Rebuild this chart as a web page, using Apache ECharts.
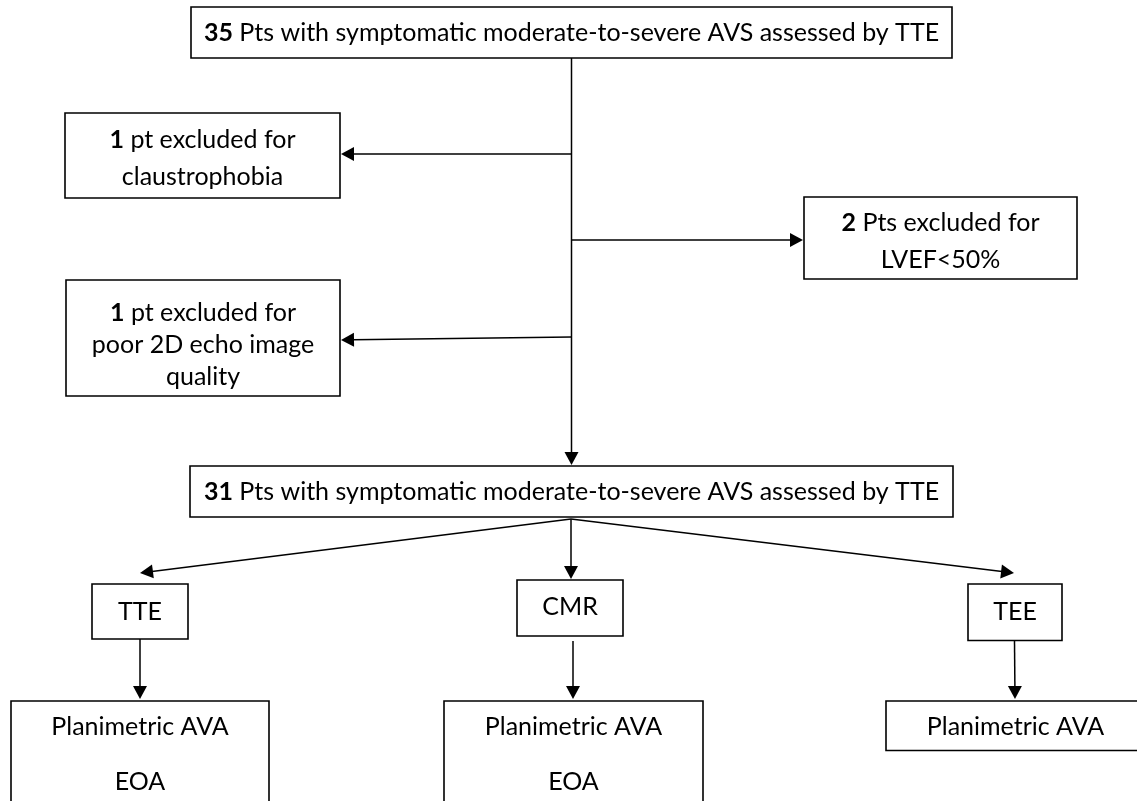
<!DOCTYPE html>
<html>
<head>
<meta charset="utf-8">
<script src="https://cdn.jsdelivr.net/npm/echarts@6/dist/echarts.min.js"></script>
<style>
html,body{margin:0;padding:0;background:#ffffff;}
#chart{width:1137px;height:801px;}
</style>
</head>
<body>
<div id="chart"></div>
<script>
// ---------- data ----------
const patientCounts = [35, 1, 2, 1, 31];
const stageTexts = [
  ' Pts with symptomatic moderate-to-severe AVS assessed by TTE',
  ' pt excluded for\nclaustrophobia',
  ' Pts excluded for\nLVEF<50%',
  ' pt excluded for\npoor 2D echo image\nquality',
  ' Pts with symptomatic moderate-to-severe AVS assessed by TTE'
];
const modalityLabels = ['TTE', 'CMR', 'TEE'];
const outcomeLabels = ['Planimetric AVA\nEOA', 'Planimetric AVA\nEOA', 'Planimetric AVA'];

// ---------- layout (diagram units, kept apart from data) ----------
// [x0, y0, x1, y1, textCenterY, lineHeight]
const layoutBoxes = [
  [191, 7, 952, 58, 33, 30],
  [65, 113, 340, 198, 158, 37],
  [804, 197, 1077, 279, 241.5, 37],
  [66, 280, 340, 396, 344.5, 32],
  [190, 466, 953, 517, 492, 30],
  [92, 584, 188, 639, 611.5, 30],
  [517, 580, 623, 636, 607, 30],
  [968, 584, 1062, 640.5, 611.5, 30],
  [11, 701, 269, 830, 754, 55],
  [444, 701, 703, 830, 754, 55],
  [886, 701, 1145, 750.5, 726.5, 30]
];
// [fromX, fromY, tipX, tipY]
const layoutArrows = [
  [571.5, 58, 571.5, 465],
  [571.5, 154, 341, 154],
  [571.5, 240, 803, 240],
  [571.5, 337, 341, 340],
  [571, 519, 140, 573],
  [571, 519, 571, 579],
  [571, 519, 1014, 573],
  [140, 639, 140, 699],
  [573, 641, 573, 699],
  [1014.5, 641, 1015, 699]
];

const FONT = 'Lato, "Open Sans", sans-serif';
const FONT_SIZE = 25;

const nodeTexts = [];
patientCounts.forEach((c, i) => nodeTexts.push('{b|' + c + '}' + stageTexts[i]));
modalityLabels.forEach(t => nodeTexts.push(t));
outcomeLabels.forEach(t => nodeTexts.push(t));

const boxData = layoutBoxes.map((b, i) => ({ name: nodeTexts[i], value: b }));
const arrowData = layoutArrows.map(a => ({ value: a }));

function renderBox(params, api) {
  const i = params.dataIndex;
  const p0 = api.coord([api.value(0), api.value(1)]);
  const p1 = api.coord([api.value(2), api.value(3)]);
  const pc = api.coord([api.value(0), api.value(4)]);
  const lh = api.size([0, api.value(5)])[1];
  const x = Math.min(p0[0], p1[0]), y = Math.min(p0[1], p1[1]);
  const w = Math.abs(p1[0] - p0[0]), h = Math.abs(p1[1] - p0[1]);
  return {
    type: 'group',
    children: [
      { type: 'rect', shape: { x: x, y: y, width: w, height: h },
        style: { fill: '#ffffff', stroke: '#000000', lineWidth: 1.6 } },
      { type: 'text',
        style: {
          text: nodeTexts[i], x: x + w / 2, y: pc[1],
          align: 'center', verticalAlign: 'middle',
          fill: '#000000', fontFamily: FONT, fontSize: FONT_SIZE, lineHeight: lh,
          rich: { b: { fontWeight: 'bold', fontFamily: FONT, fontSize: FONT_SIZE, lineHeight: lh, fill: '#000000' } }
        } }
    ]
  };
}

function renderArrow(params, api) {
  const a = api.coord([api.value(0), api.value(1)]);
  const b = api.coord([api.value(2), api.value(3)]);
  const dx = b[0] - a[0], dy = b[1] - a[1];
  const len = Math.sqrt(dx * dx + dy * dy);
  const ux = dx / len, uy = dy / len;
  const headL = 13, headW = 7;
  const bx = b[0] - ux * headL, by = b[1] - uy * headL;
  return {
    type: 'group',
    children: [
      { type: 'line', shape: { x1: a[0], y1: a[1], x2: bx + ux * 1, y2: by + uy * 1 },
        style: { stroke: '#000000', lineWidth: 1.5 } },
      { type: 'polygon',
        shape: { points: [[b[0], b[1]], [bx - uy * headW, by + ux * headW], [bx + uy * headW, by - ux * headW]] },
        style: { fill: '#000000' } }
    ]
  };
}

const chart = echarts.init(document.getElementById('chart'));
chart.setOption({
  backgroundColor: '#ffffff',
  animation: false,
  grid: { left: 0, right: 0, top: 0, bottom: 0 },
  xAxis: { type: 'value', min: 0, max: 1137, show: false },
  yAxis: { type: 'value', min: 0, max: 801, inverse: true, show: false },
  series: [
    { type: 'custom', name: 'connectors', renderItem: renderArrow, data: arrowData, z: 1 },
    { type: 'custom', name: 'boxes', renderItem: renderBox, data: boxData, z: 2 }
  ]
});
</script>
</body>
</html>
